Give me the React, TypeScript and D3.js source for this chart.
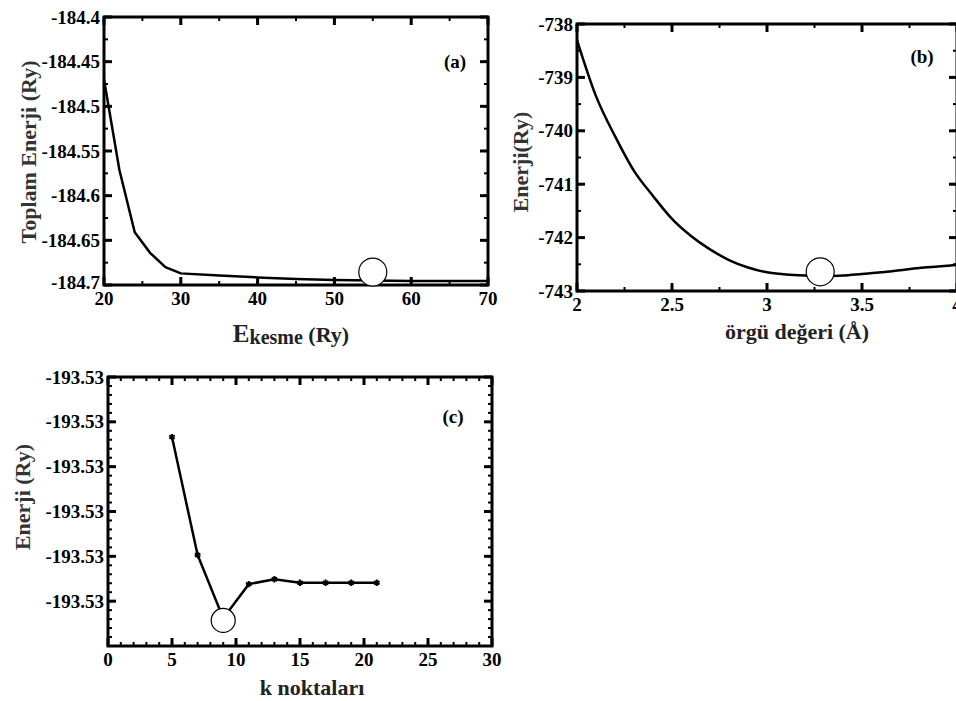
import { useEffect, useRef } from "react";
import * as d3 from "d3";

// (a) total energy vs cutoff energy
const cutoffEnergy = [20, 22, 24, 26, 28, 30, 35, 40, 45, 50, 55, 60, 65, 70];
const totalEnergy = [
  -184.47, -184.571, -184.641, -184.664, -184.68, -184.687, -184.6895, -184.6915,
  -184.6932, -184.6945, -184.695, -184.6955, -184.6955, -184.6955,
];
const ticksAX = [20, 30, 40, 50, 60, 70];
const ticksAY = [-184.4, -184.45, -184.5, -184.55, -184.6, -184.65, -184.7];

// (b) energy vs lattice constant
const latticeConstant = [
  2.0, 2.1, 2.2, 2.3, 2.4, 2.5, 2.6, 2.7, 2.8, 2.9, 3.0, 3.1, 3.2, 3.3, 3.4, 3.5, 3.6, 3.7,
  3.8, 3.9, 4.0,
];
const latticeEnergy = [
  -738.3, -739.35, -740.1, -740.75, -741.22, -741.65, -741.97, -742.22, -742.42, -742.56,
  -742.65, -742.69, -742.71, -742.72, -742.71, -742.68, -742.65, -742.61, -742.57, -742.54,
  -742.51,
];
const ticksBX = [2, 2.5, 3, 3.5, 4];
const ticksBY = [-738, -739, -740, -741, -742, -743];

// (c) energy vs k points
const kPoints = [5, 7, 9, 11, 13, 15, 17, 19, 21];
const kPointEnergy = [
  -193.530134, -193.530397, -193.530538, -193.530462, -193.530451, -193.530459,
  -193.530459, -193.530459, -193.530459,
];
const ticksCX = [0, 5, 10, 15, 20, 25, 30];
const ticksCY = [-193.53, -193.5301, -193.5302, -193.5303, -193.5304, -193.5305];

// chosen optimum values (open circles)
const optimumA = [55, -184.6855];
const optimumB = [3.28, -742.64];
const optimumC = [9, -193.530543];

const FONT = "Liberation Serif, DejaVu Serif, serif";
const hyphen = (s) => s.replace("\u2212", "-");

export default function App() {
  const ref = useRef(null);

  useEffect(() => {
    const svg = d3.select(ref.current);
    svg.selectAll("*").remove();

    function panel(o) {
      const x = d3.scaleLinear().domain(o.xDomain).range([o.left, o.right]);
      const y = d3.scaleLinear().domain(o.yDomain).range([o.bottom, o.top]);
      const g = svg.append("g");

      // minor ticks
      const minorX = d3.range(o.xDomain[0], o.xDomain[1] + 1e-9, o.xMinor);
      const minorY = d3.range(o.yDomain[0], o.yDomain[1] + 1e-12, o.yMinor);
      const tick = (list, isX, len, w) => {
        list.forEach((v) => {
          if (isX) {
            const px = x(v);
            g.append("line").attr("x1", px).attr("x2", px).attr("y1", o.bottom).attr("y2", o.bottom - len)
              .attr("stroke", "#000").attr("stroke-width", w);
            g.append("line").attr("x1", px).attr("x2", px).attr("y1", o.top).attr("y2", o.top + len)
              .attr("stroke", "#000").attr("stroke-width", w);
          } else {
            const py = y(v);
            g.append("line").attr("x1", o.left).attr("x2", o.left + len).attr("y1", py).attr("y2", py)
              .attr("stroke", "#000").attr("stroke-width", w);
            g.append("line").attr("x1", o.right).attr("x2", o.right - len).attr("y1", py).attr("y2", py)
              .attr("stroke", "#000").attr("stroke-width", w);
          }
        });
      };
      tick(minorX, true, 4, 2);
      tick(minorY, false, 4, 2);
      tick(o.xTicks, true, 8, 3);
      tick(o.yTicks, false, 8, 3);

      g.append("rect")
        .attr("x", o.left).attr("y", o.top)
        .attr("width", o.right - o.left).attr("height", o.bottom - o.top)
        .attr("fill", "none").attr("stroke", "#000").attr("stroke-width", 3);

      // tick labels
      g.selectAll("text.xt").data(o.xTicks).join("text")
        .attr("x", (d) => x(d)).attr("y", o.bottom + 20)
        .attr("text-anchor", "middle")
        .attr("font-family", FONT).attr("font-weight", "bold").attr("font-size", 19)
        .text((d) => o.xFormat(d));
      g.selectAll("text.yt").data(o.yTicks).join("text")
        .attr("x", o.left - 4).attr("y", (d) => y(d) - (o.liftLast && d === o.yDomain[0] ? 3 : 0))
        .attr("dy", "0.35em")
        .attr("text-anchor", "end")
        .attr("font-family", FONT).attr("font-weight", "bold").attr("font-size", 19)
        .text((d) => hyphen(o.yFormat(d)));

      // series
      const line = d3.line().x((d) => x(d[0])).y((d) => y(d[1])).curve(o.curve);
      const pts = o.xs.map((v, i) => [v, o.ys[i]]);
      g.append("path").datum(pts).attr("d", line)
        .attr("fill", "none").attr("stroke", "#000").attr("stroke-width", 2.5);
      if (o.markers) {
        g.selectAll("path.m").data(pts).join("path")
          .attr("transform", (d) => `translate(${x(d[0])},${y(d[1])})`)
          .attr("d", d3.symbol(d3.symbolAsterisk, 28))
          .attr("fill", "none").attr("stroke", "#000").attr("stroke-width", 2);
      }
      g.append("circle")
        .attr("cx", x(o.optimum[0])).attr("cy", y(o.optimum[1])).attr("r", o.r)
        .attr("fill", "#fff").attr("stroke", "#000").attr("stroke-width", 1.2);

      g.append("text")
        .attr("x", o.tag[0]).attr("y", o.tag[1])
        .attr("text-anchor", "middle")
        .attr("font-family", FONT).attr("font-weight", "bold").attr("font-size", 19)
        .text(o.tag[2]);

      g.append("text")
        .attr("transform", `translate(${o.yTitle[0]},${o.yTitle[1]}) rotate(-90)`)
        .attr("text-anchor", "middle").attr("dy", "0.35em")
        .attr("font-family", FONT).attr("font-weight", "bold").attr("font-size", 22)
        .attr("fill", "#333")
        .text(o.yTitle[2]);

      const xt = g.append("text")
        .attr("x", o.xTitle[0]).attr("y", o.xTitle[1])
        .attr("text-anchor", "middle")
        .attr("font-family", FONT).attr("font-weight", "bold").attr("font-size", 22)
        .attr("fill", "#222");
      o.xTitle[2](xt);
    }

    panel({
      left: 104, right: 488, top: 17, bottom: 285,
      xDomain: [20, 70], yDomain: [-184.7, -184.4],
      xTicks: ticksAX, yTicks: ticksAY, xMinor: 5, yMinor: 0.025, liftLast: true,
      xFormat: d3.format("d"), yFormat: (d) => String(+d.toFixed(2)),
      xs: cutoffEnergy, ys: totalEnergy, curve: d3.curveLinear, markers: false,
      optimum: optimumA, r: 14,
      tag: [455, 68, "(a)"],
      yTitle: [28, 152, "Toplam Enerji (Ry)"],
      xTitle: [291, 342, (t) => {
        t.append("tspan").attr("font-size", 25).text("E");
        t.append("tspan").attr("font-size", 20).attr("dy", 2).text("kesme");
        t.append("tspan").attr("dy", -2).text(" (Ry)");
      }],
    });

    panel({
      left: 577, right: 957, top: 24, bottom: 291,
      xDomain: [2, 4], yDomain: [-743, -738],
      xTicks: ticksBX, yTicks: ticksBY, xMinor: 0.25, yMinor: 0.5,
      xFormat: (d) => String(d), yFormat: d3.format("d"),
      xs: latticeConstant, ys: latticeEnergy, curve: d3.curveMonotoneX, markers: false,
      optimum: optimumB, r: 14,
      tag: [922, 63, "(b)"],
      yTitle: [520, 162, "Enerji(Ry)"],
      xTitle: [797, 339, (t) => t.text("örgü değeri (Å)")],
    });

    panel({
      left: 108, right: 492, top: 377, bottom: 646,
      xDomain: [0, 30], yDomain: [-193.5306, -193.53],
      xTicks: ticksCX, yTicks: ticksCY, xMinor: 1, yMinor: 0.00002,
      xFormat: d3.format("d"), yFormat: d3.format(".2f"),
      xs: kPoints, ys: kPointEnergy, curve: d3.curveLinear, markers: true,
      optimum: optimumC, r: 12,
      tag: [453, 423, "(c)"],
      yTitle: [22, 497, "Enerji (Ry)"],
      xTitle: [312, 695, (t) => t.text("k noktaları")],
    });
  }, []);

  return (
    <svg
      ref={ref}
      width={956}
      height={701}
      style={{ position: "absolute", left: 0, top: 0, background: "#fff" }}
    />
  );
}
